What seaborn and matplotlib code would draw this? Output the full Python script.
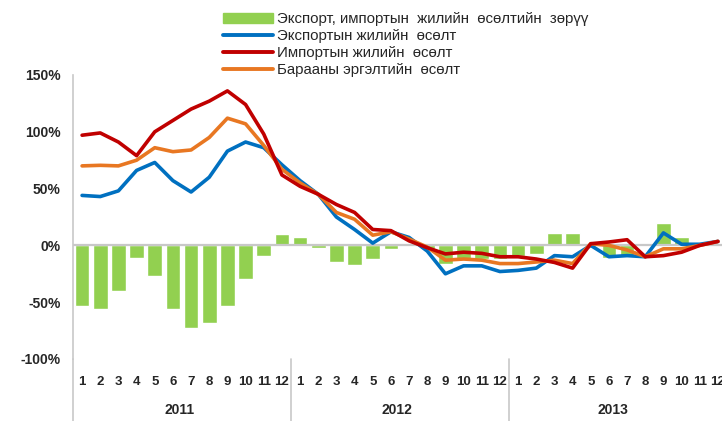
import matplotlib.pyplot as plt
import matplotlib.transforms as mtransforms
import pandas as pd
import seaborn as sns
from matplotlib.patches import Patch
from matplotlib.lines import Line2D
from matplotlib.ticker import FuncFormatter

# Data (% year-on-year), monthly 2011-2013
years = ['2011', '2012', '2013']
months = [str(m) for m in range(1, 13)]

gap = [-53, -56, -40, -11, -27, -56, -73, -68, -53, -30, -9, 10,
       7, -2, -15, -17, -12, -3, 2, -3, -16, -12, -12, -12,
       -9, -8, 10.5, 10.5, 2, -11, -10, 2, 20, 7, 1, 2]
exports = [44, 43, 48, 66, 73, 57, 47, 60, 83, 91, 86, 71,
           57, 45, 25, 14, 2, 12, 7, -5, -25, -18, -18, -23,
           -22, -20, -9, -10, 0, -10, -9, -10, 11, 1, 1, 3.5]
imports = [97, 99, 91, 79, 100, 110, 120, 127, 136, 124, 98, 62,
           52, 45, 36, 29, 14, 13, 4, -2, -7.5, -6, -7, -10,
           -10, -12, -15, -20, 1.5, 3, 5, -10, -9, -6, 0, 3.5]
turnover = [70, 70.5, 70, 75, 86, 82.5, 84, 95, 112, 107, 88, 67,
            55, 45, 29, 23, 9, 12, 5.6, -1.5, -13, -12, -13, -16,
            -16, -14.6, -13, -16, 1.5, 0, -4, -10, -3, -3, 0, 3.5]

labels = ['Экспорт, импортын  жилийн  өсөлтийн  зөрүү',
          'Экспортын жилийн  өсөлт',
          'Импортын жилийн  өсөлт',
          'Барааны эргэлтийн  өсөлт']

c_gap = '#92D050'
c_exp = '#0070C0'
c_imp = '#C00000'
c_tur = '#E87722'
c_axis = '#C8C8C8'

df = pd.DataFrame({
    'year': [y for y in years for _ in months],
    'month': months * len(years),
    'gap': gap,
    'exports': exports,
    'imports': imports,
    'turnover': turnover,
})
df['pos'] = range(len(df))

sns.set_theme(style='white')
plt.rcParams['font.family'] = ['Liberation Sans', 'DejaVu Sans']

W, H = 722, 421
fig = plt.figure(figsize=(W / 100, H / 100), dpi=100)
ax = fig.add_axes([73 / W, (H - 359) / H, (W - 73) / W, (359 - 75) / H])

sns.barplot(data=df, x='pos', y='gap', color=c_gap, saturation=1, width=0.8, ax=ax, zorder=2)
ax.axhline(0, color=c_axis, lw=1.6, zorder=2.5)
for col, c in [('exports', c_exp), ('turnover', c_tur), ('imports', c_imp)]:
    sns.lineplot(data=df, x='pos', y=col, color=c, lw=2.6, ax=ax, zorder=3,
                 solid_joinstyle='round', solid_capstyle='round')

ax.set_xlim(-0.5, len(df) - 0.5 - 5 / 18.17)
ax.set_ylim(-100, 150)
ax.set_yticks(range(-100, 151, 50))
ax.yaxis.set_major_formatter(FuncFormatter(lambda v, p: f'{v:.0f}%'))
ax.set_xticks(df['pos'])
ax.set_xticklabels(df['month'])
ax.set_xlabel('')
ax.set_ylabel('')

for s in ['top', 'right', 'bottom']:
    ax.spines[s].set_visible(False)
ax.spines['left'].set_color(c_axis)
ax.spines['left'].set_linewidth(1.2)

ax.tick_params(axis='y', direction='out', length=5, width=1.2, color=c_axis, pad=4,
               labelsize=10)
ax.tick_params(axis='x', length=0, pad=12.5, labelsize=9.5)
for t in ax.get_xticklabels() + ax.get_yticklabels():
    t.set_fontweight('bold')

# year groups below the month labels
trans = mtransforms.blended_transform_factory(ax.transData, ax.transAxes)
n = len(months)
right = ax.get_xlim()[1]
for k, y in enumerate(years):
    start = k * n - 0.5
    end = min(start + n, right)
    ax.plot([start, start], [0, -0.23], transform=trans, color=c_axis, lw=1.2, clip_on=False)
    ax.annotate(y, xy=((start + end) / 2, 0), xycoords=trans, xytext=(-2, -36.5),
                textcoords='offset points', ha='center', va='center',
                fontsize=10, fontweight='bold')

handles = [Patch(color=c_gap, label=labels[0]),
           Line2D([], [], color=c_exp, lw=2.8, label=labels[1]),
           Line2D([], [], color=c_imp, lw=2.8, label=labels[2]),
           Line2D([], [], color=c_tur, lw=2.8, label=labels[3])]
fig.legend(handles=handles, loc='upper left', bbox_to_anchor=(223 / W, 1 - 12 / H),
           frameon=False, fontsize=10.8, handlelength=3.3, handleheight=0.7,
           handletextpad=0.3, labelspacing=0.2, borderpad=0, borderaxespad=0)

fig.savefig('out.png', dpi=100)
